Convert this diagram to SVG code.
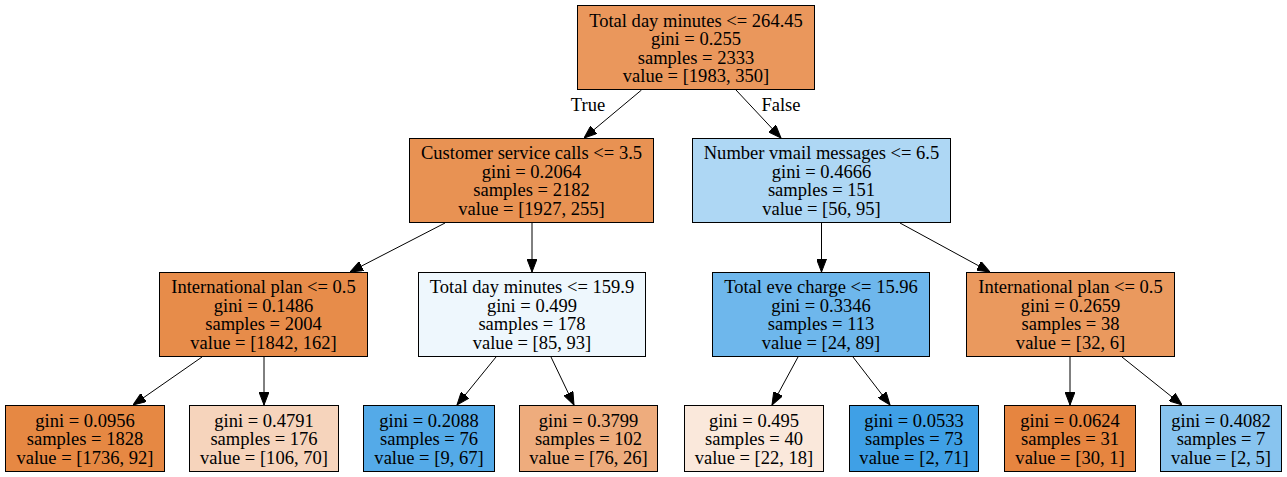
<svg xmlns="http://www.w3.org/2000/svg" width="1287" height="477" viewBox="0 0 1287 477">
<style>
  .box { stroke: #000000; stroke-width: 1; }
  text { font-family: "Liberation Serif", "Times New Roman", serif; font-size: 18.55px; fill: #000000; text-anchor: middle; }
  .edge { stroke: #000000; stroke-width: 1; fill: none; marker-end: url(#arrow); }
</style>
<defs>
  <marker id="arrow" markerUnits="userSpaceOnUse" viewBox="0 0 13 10" refX="13" refY="5" markerWidth="13" markerHeight="10" orient="auto">
    <path d="M0,0 L13,5 L0,10 z" fill="#000000" stroke="#000000" stroke-width="1"/>
  </marker>
</defs>
<rect x="0" y="0" width="1287" height="477" fill="#ffffff"/>

<g id="connectors">
  <line class="edge" x1="641.5" y1="90" x2="584" y2="138"/>
  <line class="edge" x1="736" y1="90" x2="781" y2="138"/>
  <line class="edge" x1="445" y1="223" x2="350" y2="272"/>
  <line class="edge" x1="532" y1="223" x2="532" y2="272"/>
  <line class="edge" x1="821.5" y1="223" x2="821.5" y2="272"/>
  <line class="edge" x1="900" y1="223" x2="990" y2="272"/>
  <line class="edge" x1="202" y1="357" x2="133" y2="405"/>
  <line class="edge" x1="264" y1="357" x2="264" y2="405"/>
  <line class="edge" x1="496" y1="357" x2="457" y2="405"/>
  <line class="edge" x1="551" y1="357" x2="574" y2="405"/>
  <line class="edge" x1="798" y1="357" x2="772" y2="405"/>
  <line class="edge" x1="853" y1="357" x2="890" y2="405"/>
  <line class="edge" x1="1070" y1="357" x2="1070" y2="405"/>
  <line class="edge" x1="1122" y1="357" x2="1182" y2="405"/>
  <text x="588" y="110.7">True</text>
  <text x="781" y="110.7">False</text>
</g>

<g id="node0">
  <rect class="box" x="577.5" y="5.5" width="237" height="84" fill="#ea975c"/>
  <text x="696" y="26.5">Total day minutes &lt;= 264.45</text>
  <text x="696" y="45">gini = 0.255</text>
  <text x="696" y="63.5">samples = 2333</text>
  <text x="696" y="82">value = [1983, 350]</text>
</g>

<g id="node1">
  <rect class="box" x="409.5" y="138.5" width="244" height="84" fill="#e89253"/>
  <text x="531.5" y="159.2">Customer service calls &lt;= 3.5</text>
  <text x="531.5" y="177.7">gini = 0.2064</text>
  <text x="531.5" y="196.2">samples = 2182</text>
  <text x="531.5" y="214.7">value = [1927, 255]</text>
</g>

<g id="node2">
  <rect class="box" x="692.5" y="138.5" width="258" height="84" fill="#aed7f4"/>
  <text x="821.5" y="159.2">Number vmail messages &lt;= 6.5</text>
  <text x="821.5" y="177.7">gini = 0.4666</text>
  <text x="821.5" y="196.2">samples = 151</text>
  <text x="821.5" y="214.7">value = [56, 95]</text>
</g>

<g id="node3">
  <rect class="box" x="159.5" y="272.5" width="208" height="84" fill="#e78c4a"/>
  <text x="263.5" y="293.2">International plan &lt;= 0.5</text>
  <text x="263.5" y="311.7">gini = 0.1486</text>
  <text x="263.5" y="330.2">samples = 2004</text>
  <text x="263.5" y="348.7">value = [1842, 162]</text>
</g>

<g id="node4">
  <rect class="box" x="418.5" y="272.5" width="227" height="84" fill="#eef7fd"/>
  <text x="532" y="293.2">Total day minutes &lt;= 159.9</text>
  <text x="532" y="311.7">gini = 0.499</text>
  <text x="532" y="330.2">samples = 178</text>
  <text x="532" y="348.7">value = [85, 93]</text>
</g>

<g id="node5">
  <rect class="box" x="712.5" y="272.5" width="217" height="84" fill="#6eb7ec"/>
  <text x="821" y="293.2">Total eve charge &lt;= 15.96</text>
  <text x="821" y="311.7">gini = 0.3346</text>
  <text x="821" y="330.2">samples = 113</text>
  <text x="821" y="348.7">value = [24, 89]</text>
</g>

<g id="node6">
  <rect class="box" x="966.5" y="272.5" width="208" height="84" fill="#ea995e"/>
  <text x="1070.5" y="293.2">International plan &lt;= 0.5</text>
  <text x="1070.5" y="311.7">gini = 0.2659</text>
  <text x="1070.5" y="330.2">samples = 38</text>
  <text x="1070.5" y="348.7">value = [32, 6]</text>
</g>

<g id="leaf1">
  <rect class="box" x="5.5" y="405.5" width="159" height="66" fill="#e68843"/>
  <text x="85" y="426.5">gini = 0.0956</text>
  <text x="85" y="445">samples = 1828</text>
  <text x="85" y="463.5">value = [1736, 92]</text>
</g>

<g id="leaf2">
  <rect class="box" x="189.5" y="405.5" width="149" height="66" fill="#f6d4bc"/>
  <text x="264" y="426.5">gini = 0.4791</text>
  <text x="264" y="445">samples = 176</text>
  <text x="264" y="463.5">value = [106, 70]</text>
</g>

<g id="leaf3">
  <rect class="box" x="363.5" y="405.5" width="131" height="66" fill="#54aae8"/>
  <text x="429" y="426.5">gini = 0.2088</text>
  <text x="429" y="445">samples = 76</text>
  <text x="429" y="463.5">value = [9, 67]</text>
</g>

<g id="leaf4">
  <rect class="box" x="519.5" y="405.5" width="138" height="66" fill="#eeac7d"/>
  <text x="588.5" y="426.5">gini = 0.3799</text>
  <text x="588.5" y="445">samples = 102</text>
  <text x="588.5" y="463.5">value = [76, 26]</text>
</g>

<g id="leaf5">
  <rect class="box" x="684.5" y="405.5" width="139" height="66" fill="#fae8db"/>
  <text x="754" y="426.5">gini = 0.495</text>
  <text x="754" y="445">samples = 40</text>
  <text x="754" y="463.5">value = [22, 18]</text>
</g>

<g id="leaf6">
  <rect class="box" x="849.5" y="405.5" width="129" height="66" fill="#3fa0e6"/>
  <text x="914" y="426.5">gini = 0.0533</text>
  <text x="914" y="445">samples = 73</text>
  <text x="914" y="463.5">value = [2, 71]</text>
</g>

<g id="leaf7">
  <rect class="box" x="1004.5" y="405.5" width="131" height="66" fill="#e68540"/>
  <text x="1070" y="426.5">gini = 0.0624</text>
  <text x="1070" y="445">samples = 31</text>
  <text x="1070" y="463.5">value = [30, 1]</text>
</g>

<g id="leaf8">
  <rect class="box" x="1160.5" y="405.5" width="121" height="66" fill="#88c4ef"/>
  <text x="1221" y="426.5">gini = 0.4082</text>
  <text x="1221" y="445">samples = 7</text>
  <text x="1221" y="463.5">value = [2, 5]</text>
</g>
</svg>
